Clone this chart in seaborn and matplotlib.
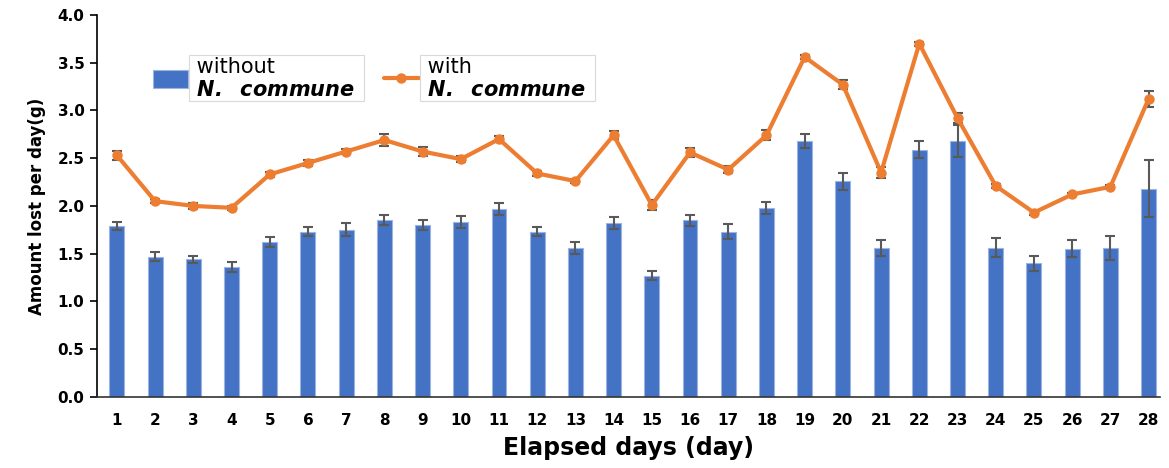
import numpy as np
import pandas as pd
import matplotlib
matplotlib.use('Agg')
import matplotlib.pyplot as plt
import seaborn as sns

days = [str(d) for d in range(1, 29)]

without_vals = [1.79, 1.47, 1.44, 1.36, 1.62, 1.73, 1.75, 1.85, 1.80, 1.83,
                1.97, 1.73, 1.56, 1.82, 1.27, 1.85, 1.73, 1.98, 2.68, 2.26,
                1.56, 2.59, 2.68, 1.56, 1.40, 1.55, 1.56, 2.18]
without_err = [0.04, 0.05, 0.04, 0.05, 0.05, 0.05, 0.07, 0.05, 0.05, 0.06,
               0.06, 0.05, 0.06, 0.06, 0.05, 0.06, 0.08, 0.06, 0.07, 0.09,
               0.08, 0.09, 0.17, 0.10, 0.08, 0.09, 0.13, 0.30]

with_vals = [2.53, 2.05, 2.00, 1.98, 2.33, 2.45, 2.57, 2.69, 2.57, 2.49,
             2.70, 2.34, 2.26, 2.74, 2.01, 2.56, 2.38, 2.74, 3.56, 3.27,
             2.35, 3.70, 2.92, 2.21, 1.93, 2.12, 2.20, 3.12]
with_err = [0.05, 0.02, 0.03, 0.02, 0.03, 0.03, 0.03, 0.06, 0.05, 0.03,
            0.03, 0.03, 0.02, 0.04, 0.05, 0.05, 0.04, 0.05, 0.02, 0.05,
            0.06, 0.02, 0.05, 0.02, 0.02, 0.02, 0.02, 0.08]

label_without = ' without\n ' + r'$\mathbfit{N.\ \ commune}$' + '  '
label_with = ' with\n ' + r'$\mathbfit{N.\ \ commune}$' + '  '

blue = '#4472C4'
orange = '#ED7D31'
grey = '#595959'

df = pd.DataFrame({'day': days, 'without': without_vals, 'with': with_vals})

sns.set_style('white')
plt.rcParams['font.family'] = ['DejaVu Sans']
plt.rcParams['mathtext.fontset'] = 'dejavusans'
plt.rcParams['text.color'] = 'black'
plt.rcParams['axes.labelcolor'] = 'black'
plt.rcParams['xtick.color'] = 'black'
plt.rcParams['ytick.color'] = 'black'

fig = plt.figure(figsize=(11.69, 4.68), dpi=100)
ax = fig.add_axes([0.083, 0.152, 0.909, 0.816])

sns.barplot(data=df, x='day', y='without', color=blue, width=0.39,
            edgecolor='#9db3e0', linewidth=0.8, saturation=1, ax=ax,
            label=label_without)
pos = np.arange(len(days))
ax.errorbar(pos, without_vals, yerr=without_err, fmt='none', ecolor=grey,
            elinewidth=1.5, capsize=3.5, capthick=1.5, zorder=3)

ax.errorbar(pos, with_vals, yerr=with_err, fmt='none', ecolor=grey,
            elinewidth=1.5, capsize=3.5, capthick=1.5, zorder=3)
sns.lineplot(x=pos, y=with_vals, color=orange, linewidth=3, marker='o',
             markersize=7.5, markeredgewidth=0, ax=ax, label=label_with, zorder=4)

ax.set_xlim(-0.52, 27.29)
ax.set_ylim(0, 4.0)
ax.set_yticks(np.arange(0, 4.01, 0.5))
ax.set_yticklabels([f'{v:.1f}' for v in np.arange(0, 4.01, 0.5)])
ax.set_xticks(pos)
ax.set_xticklabels(days)

for sp in ['top', 'right']:
    ax.spines[sp].set_visible(False)
ax.spines['left'].set_color('black')
ax.spines['bottom'].set_color('#333333')
ax.spines['left'].set_linewidth(1.2)
ax.spines['bottom'].set_linewidth(1.2)
ax.tick_params(axis='y', left=True, length=5, width=1.2, labelsize=11, pad=4)
ax.tick_params(axis='x', bottom=False, labelsize=11, pad=8)
for t in ax.get_xticklabels() + ax.get_yticklabels():
    t.set_fontweight('bold')

ax.set_xlabel('Elapsed days (day)', fontsize=17, fontweight='bold', labelpad=6)
ax.set_ylabel('Amount lost per day(g)', fontsize=12, fontweight='bold', labelpad=8)

h, l = ax.get_legend_handles_labels()
order = [l.index(label_without), l.index(label_with)]
leg = ax.legend([h[i] for i in order], [l[i] for i in order], loc='upper left',
                bbox_to_anchor=(0.035, 0.94), ncol=2, frameon=False, fontsize=15,
                handlelength=1.7, handleheight=1.0, columnspacing=1.0,
                handletextpad=0.1)
for t in leg.get_texts():
    t.set_bbox(dict(facecolor='white', edgecolor='#d9d9d9', linewidth=0.8, pad=1))

fig.savefig('out.png', dpi=100)
